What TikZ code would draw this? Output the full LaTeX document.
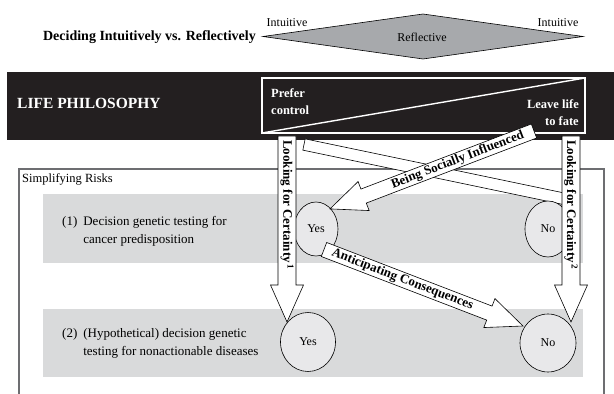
\documentclass[tikz,border=0pt]{standalone}
\usetikzlibrary{shapes.geometric}
\usepackage{fontspec}
\setmainfont{Liberation Serif}
\definecolor{bandblack}{HTML}{231F20}
\definecolor{rowgray}{HTML}{D9DADB}
\definecolor{circgray}{HTML}{E8E8EA}
\definecolor{diagray}{HTML}{A7A9AC}
\definecolor{boxgray}{HTML}{6D6E71}
\def\arSW{7.5}
\def\arHW{15.5}
\def\arHL{36}
\newcommand\slantarrow[4]{%
  \begin{scope}[shift={(#1,#2)}, rotate=#3]
    \draw[barrow] (0,-\arSW) -- (#4-\arHL,-\arSW) -- (#4-\arHL,-\arHW) -- (#4,0)
      -- (#4-\arHL,\arHW) -- (#4-\arHL,\arSW) -- (0,\arSW) -- cycle;
  \end{scope}}
\begin{document}
\begin{tikzpicture}[x=1pt,y=1pt,
  lbl/.style={font=\fontsize{13}{15}\selectfont\bfseries, inner sep=0pt},
  barrow/.style={draw=black, fill=white, line width=0.6pt},
  whitetxt/.style={text=white, font=\fontsize{12.5}{17}\selectfont\bfseries, inner sep=0pt},
  rowtxt/.style={font=\fontsize{13}{17.5}\selectfont, inner sep=0pt, anchor=west},
  toptxt/.style={inner sep=0pt, font=\fontsize{12}{14}\selectfont},
  answer/.style={ellipse, draw=black, line width=0.6pt, fill=circgray, inner sep=0pt,
                 font=\fontsize{12}{14}\selectfont}]
\useasboundingbox (0,0) rectangle (614,394);

% top row
\node[anchor=east, inner sep=0pt, font=\fontsize{14}{16}\selectfont\bfseries] (title) at (256,357) {Deciding Intuitively vs. Reflectively};
\draw[fill=diagray, line width=0.6pt] (263,357.5) coordinate (dl) -- (423,380) coordinate (dt)
   -- (583,357.5) coordinate (dr) -- (423,335) coordinate (db) -- cycle;
\node[toptxt] (refl) at (422,357) {Reflective};
\node[toptxt] (intl) at (287,371.5) {Intuitive};
\node[toptxt] (intr) at (558,371.5) {Intuitive};

% black band
\fill[bandblack] (7,254) rectangle (614,322);
\node[anchor=west, text=white, inner sep=0pt, font=\fontsize{15.5}{17}\selectfont\bfseries] (life) at (17,291) {LIFE PHILOSOPHY};
\draw[white, line width=1.4pt] (262,261) rectangle (585,316);
\draw[white, line width=1.4pt] (262,261) -- (585,316);
\node[whitetxt, anchor=west, align=left] (pref) at (271,292.5) {Prefer\\control};
\node[whitetxt, anchor=east, align=right] (leave) at (579,281.5) {Leave life\\to fate};

% simplifying risks box
\draw[boxgray, line width=1.3pt] (19,-20) rectangle (604,225);
\node[anchor=west, inner sep=0pt, font=\fontsize{12.5}{15}\selectfont] (simp) at (22,215) {Simplifying Risks};
\fill[rowgray] (43,131) rectangle (583,200);
\fill[rowgray] (43,17) rectangle (583,85);
\node[rowtxt] (q1) at (62,163) {\begin{tabular}{@{}l@{\hspace{6pt}}l@{}}(1) & Decision genetic testing for\\ & cancer predisposition\end{tabular}};
\node[rowtxt] (q2) at (62,51) {\begin{tabular}{@{}l@{\hspace{6pt}}l@{}}(2) & (Hypothetical) decision genetic\\ & testing for nonactionable diseases\end{tabular}};

% unlabeled band
\begin{scope}[shift={(304,249.5)}, rotate=-11.8]
  \draw[barrow] (0,-5.75) rectangle (277,5.75);
\end{scope}

% answers
\node[answer, minimum width=44pt, minimum height=54pt] (yes1) at (316,165) {Yes};
\node[answer, minimum width=46pt, minimum height=56pt] (no1) at (548,165) {No};
\node[answer, minimum width=55pt, minimum height=59pt] (yes2) at (308,52) {Yes};
\node[answer, minimum width=56pt, minimum height=58pt] (no2) at (548,51) {No};

% anticipating consequences
\slantarrow{324}{144.5}{-21.03}{213.2}
\begin{scope}[shift={(324,144.5)}, rotate=-21.03]
  \node[lbl, rotate=-21.03] (ac) at (84,0) {Anticipating Consequences};
\end{scope}

% being socially influenced
\slantarrow{534}{263}{200.9}{218.4}
\begin{scope}[shift={(534,263)}, rotate=200.9]
  \node[lbl, rotate=20.9] (bsi) at (81.6,0) {Being Socially Influenced};
\end{scope}

% vertical arrows
\draw[barrow] (278,258) -- (296,258) -- (296,109) -- (303.5,109) -- (287,72) -- (270.5,109) -- (278,109) -- cycle;
\node[lbl, rotate=-90, anchor=west] (lc1) at (287,254) {Looking for Certainty\textsuperscript{\,1}};
\draw[barrow] (562,258) -- (580,258) -- (580,109) -- (587.5,109) -- (571,72) -- (554.5,109) -- (562,109) -- cycle;
\node[lbl, rotate=-90, anchor=west] (lc2) at (571,254) {Looking for Certainty\textsuperscript{\,2}};
\end{tikzpicture}
\end{document}
